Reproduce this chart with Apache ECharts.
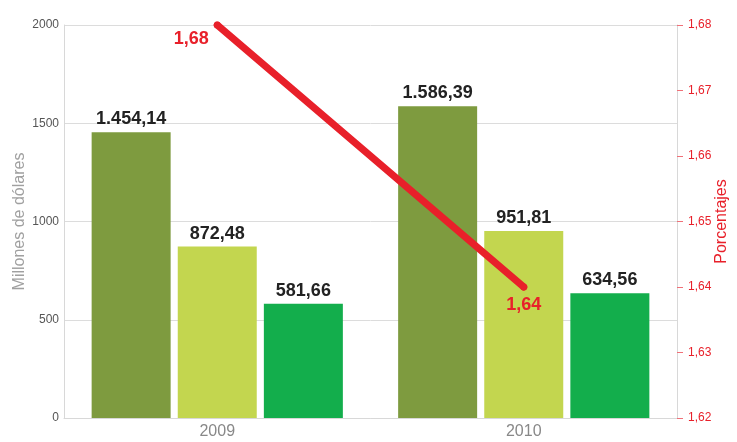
<!DOCTYPE html>
<html>
<head>
<meta charset="utf-8">
<script src="https://cdn.jsdelivr.net/npm/echarts@6/dist/echarts.min.js"></script>
<style>
  html, body { margin: 0; padding: 0; background: #fff; }
  #chart { width: 737px; height: 442px; }
</style>
</head>
<body>
<div id="chart"></div>
<script>
var years = ['2009', '2010'];
var serieA = [1454.14, 1586.39];
var serieB = [872.48, 951.81];
var serieC = [581.66, 634.56];
var porcentajes = [1.68, 1.64];

var chart = echarts.init(document.getElementById('chart'));

function fmt(v) {
    var p = v.toFixed(2).split('.');
    var ent = p[0].replace(/\B(?=(\d{3})+(?!\d))/g, '.');
    return ent + ',' + p[1];
}

var barLabel = {
    show: true,
    position: 'top',
    distance: 4,
    color: '#222',
    fontFamily: 'Liberation Sans',
    fontWeight: 'bold',
    fontSize: 18,
    formatter: function (p) { return fmt(p.value); }
};

function barSerie(data, color) {
    return {
        type: 'bar',
        data: data,
        barWidth: 79,
        barGap: '9%',
        itemStyle: { color: color },
        label: barLabel
    };
}

chart.setOption({
    animation: false,
    grid: { left: 64, right: 60, top: 25, bottom: 24, outerBoundsMode: 'none', containLabel: false },
    xAxis: {
        type: 'category',
        data: years,
        axisLine: { lineStyle: { color: '#d8d8d8' } },
        axisTick: { show: false },
        axisLabel: { color: '#888', fontSize: 16, margin: 6, fontFamily: 'Liberation Sans' }
    },
    yAxis: [{
        type: 'value',
        min: 0,
        max: 2000,
        interval: 500,
        name: 'Millones de dólares',
        nameLocation: 'middle',
        nameGap: 36,
        nameMoveOverlap: false,
        nameTextStyle: { color: '#a0a0a0', fontSize: 16, fontFamily: 'Liberation Sans' },
        axisLine: { show: true, lineStyle: { color: '#d8d8d8' } },
        axisTick: { show: false },
        axisLabel: {
            color: '#555', fontSize: 12, margin: 5, fontFamily: 'Liberation Sans',
            formatter: function (v) { return String(v); }
        },
        splitLine: { lineStyle: { color: '#dcdcdc' } }
    }, {
        type: 'value',
        position: 'right',
        min: 1.62,
        max: 1.68,
        interval: 0.01,
        name: 'Porcentajes',
        nameLocation: 'middle',
        nameGap: 37,
        nameMoveOverlap: false,
        nameTextStyle: { color: '#e8202a', fontSize: 16, fontFamily: 'Liberation Sans' },
        axisLine: { show: true, lineStyle: { color: '#d8d8d8' } },
        axisTick: { show: true, length: 6, lineStyle: { color: '#f07078' } },
        axisLabel: {
            color: '#e8202a', fontSize: 12, margin: 11, fontFamily: 'Liberation Sans',
            formatter: function (v) { return v.toFixed(2).replace('.', ','); }
        },
        splitLine: { show: false }
    }],
    series: [
        barSerie(serieA, '#7e9b3f'),
        barSerie(serieB, '#c3d64f'),
        barSerie(serieC, '#13ae4c'),
        {
            type: 'line',
            yAxisIndex: 1,
            data: [
                { value: porcentajes[0], label: { position: 'left', offset: [0, 14] } },
                { value: porcentajes[1], label: { position: 'bottom', distance: 6 } }
            ],
            symbol: 'circle',
            symbolSize: 7,
            itemStyle: { color: '#e8202a' },
            lineStyle: { color: '#e8202a', width: 7, cap: 'round' },
            label: {
                show: true,
                color: '#e8202a',
                fontFamily: 'Liberation Sans',
                fontWeight: 'bold',
                fontSize: 18,
                formatter: function (p) { return p.value.toFixed(2).replace('.', ','); }
            },
            z: 5
        }
    ]
});
</script>
</body>
</html>
